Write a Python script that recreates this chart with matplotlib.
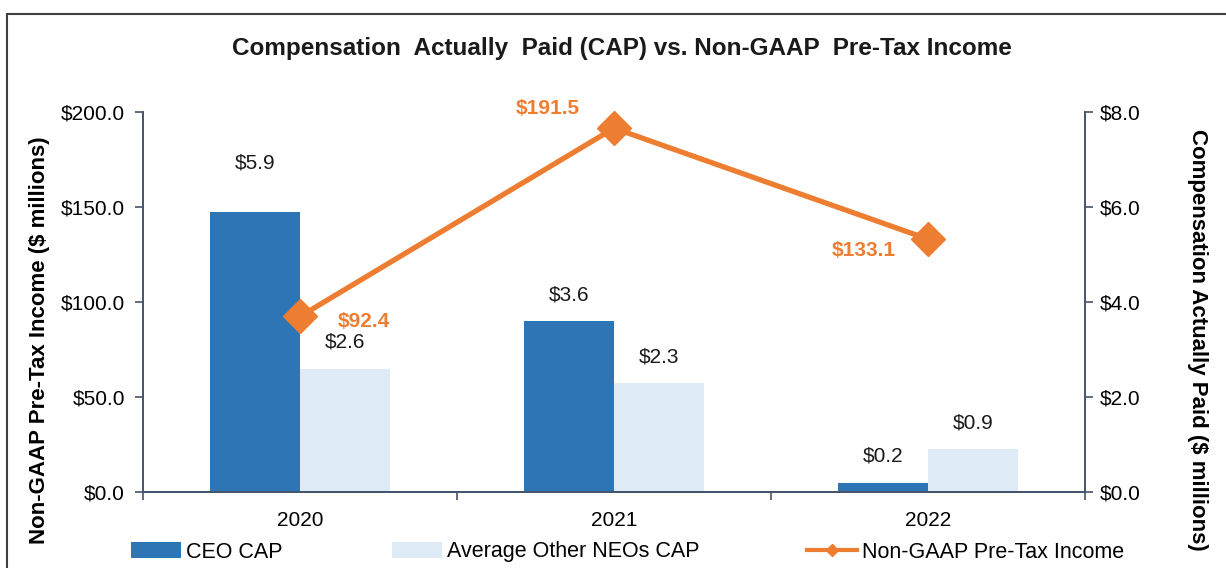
import numpy as np
import matplotlib.pyplot as plt
from matplotlib.lines import Line2D
from matplotlib.patches import Patch

plt.rcParams['font.family'] = ['Liberation Sans', 'DejaVu Sans']

# data
years = ['2020', '2021', '2022']
ceo_cap = [5.9, 3.6, 0.2]
neo_cap = [2.6, 2.3, 0.9]
pretax_income = [92.4, 191.5, 133.1]

ceo_color = '#2E75B6'
neo_color = '#DEEBF7'
line_color = '#ED7D31'
spine_color = '#44546A'

fig = plt.figure(figsize=(12.26, 5.68), dpi=100)
# outer frame (cropped at right/bottom like the source)
fig.add_artist(Line2D([7/1226, 7/1226], [0, 1 - 14/568], transform=fig.transFigure, color='#404040', lw=1.5))
fig.add_artist(Line2D([7/1226, 1], [1 - 14/568, 1 - 14/568], transform=fig.transFigure, color='#404040', lw=1.5))

ax = fig.add_axes([143/1226, 1 - 492/568, (1085 - 143)/1226, (492 - 112)/568])
ax2 = ax.twinx()

x = np.arange(len(years))
w = 0.287
ax2.bar(x - w/2, ceo_cap, w, color=ceo_color)
ax2.bar(x + w/2, neo_cap, w, color=neo_color)

# bar labels
ceo_off = [28, 12, 12]
for xi, v, o in zip(x, ceo_cap, ceo_off):
    ax2.annotate(f'${v:.1f}', (xi - w/2, v), xytext=(0, o), textcoords='offset points',
                 ha='center', va='bottom', fontsize=15, color='#1a1a1a')
for xi, v in zip(x, neo_cap):
    ax2.annotate(f'${v:.1f}', (xi + w/2, v), xytext=(0, 12), textcoords='offset points',
                 ha='center', va='bottom', fontsize=15, color='#1a1a1a')

# line on top of the bars
ax.set_zorder(ax2.get_zorder() + 1)
ax.patch.set_visible(False)
ax.plot(x, pretax_income, color=line_color, lw=3.8, marker='D', markersize=17,
        clip_on=False, zorder=5)
line_offs = [(46, -4), (-48, 14), (-46, -8)]
for xi, v, (dx, dy) in zip(x, pretax_income, line_offs):
    ax.annotate(f'${v:.1f}', (xi, v), xytext=(dx, dy), textcoords='offset points',
                ha='center', va='center', fontsize=15, fontweight='bold', color=line_color)

ax.set_xlim(-0.5, 2.5)
ax.set_ylim(0, 200)
ax2.set_ylim(0, 8)
ax.set_yticks(np.arange(0, 201, 50))
ax.set_yticklabels([f'${t:.1f}' for t in np.arange(0, 201, 50)])
ax2.set_yticks(np.arange(0, 9, 2))
ax2.set_yticklabels([f'${t:.1f}' for t in np.arange(0, 9, 2)])

ax.set_xticks(x)
ax.set_xticklabels(years)
ax.set_xticks([-0.5, 0.5, 1.5, 2.5], minor=True)
ax.tick_params(axis='x', which='major', length=0, pad=14, labelsize=15)
ax.tick_params(axis='x', which='minor', length=6, color=spine_color, width=1.2)
ax.tick_params(axis='y', length=6, color=spine_color, width=1.2, labelsize=15, pad=7)
ax2.tick_params(axis='y', length=6, color=spine_color, width=1.2, labelsize=15, pad=5)

for a in (ax, ax2):
    a.spines['top'].set_visible(False)
    for s in ('left', 'right', 'bottom'):
        a.spines[s].set_color(spine_color)
        a.spines[s].set_linewidth(1.4)
ax.spines['right'].set_visible(False)
ax2.spines['left'].set_visible(False)

ax.set_ylabel('Non-GAAP Pre-Tax Income ($ millions)', fontsize=16, fontweight='bold', labelpad=8)
ax2.set_ylabel('Compensation Actually Paid ($ millions)', fontsize=16, fontweight='bold',
               rotation=-90, labelpad=48)
ax.yaxis.label.set_y(0.4)
ax2.yaxis.label.set_y(0.4)

fig.text(0.507, 1 - 48/568, 'Compensation  Actually  Paid (CAP) vs. Non-GAAP  Pre-Tax Income',
         ha='center', va='center', fontsize=17.5, fontweight='bold', color='#1a1a1a')

# legend entries placed one by one (uneven spacing in the source)
handles = [Patch(facecolor=ceo_color), Patch(facecolor=neo_color),
           Line2D([0], [0], color=line_color, lw=3, marker='D', markersize=6)]
labels = ['CEO CAP', 'Average Other NEOs CAP', 'Non-GAAP Pre-Tax Income']
leg_x = [131, 392, 807]
for h, l, lx in zip(handles, labels, leg_x):
    fig.legend([h], [l], loc='center left', bbox_to_anchor=(lx/1226, 1 - 552/568),
               frameon=False, fontsize=15.5, handlelength=2.3, handletextpad=0.25,
               borderpad=0, borderaxespad=0)

fig.savefig('out.png', dpi=100)
